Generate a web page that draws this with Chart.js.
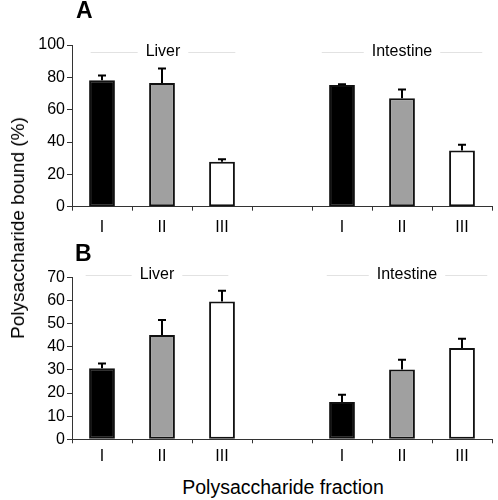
<!DOCTYPE html>
<html>
<head>
<meta charset="utf-8">
<script src="https://cdn.jsdelivr.net/npm/chart.js@4"></script>
<style>
    body { margin: 0; background: #fff; font-family: "Liberation Sans", Arial, sans-serif; }
    #wrap { position: relative; width: 498px; height: 500px; overflow: hidden; }
    .panel { position: absolute; left: 0; width: 498px; height: 235px; }
    .letter { position: absolute; font-weight: bold; font-size: 23px; color: #000; }
    #ytitle { position: absolute; left: 18px; top: 228px; font-size: 19px; white-space: nowrap;
        transform: translate(-50%, -50%) rotate(-90deg); }
    #xtitle { position: absolute; left: 283px; top: 487px; font-size: 19.5px; white-space: nowrap;
        transform: translate(-50%, -50%); }
</style>
</head>
<body>
<div id="wrap">
    <div class="panel" style="top:0"><canvas id="chartA"></canvas></div>
    <div class="panel" style="top:235px"><canvas id="chartB"></canvas></div>
    <div class="letter" style="left:76px; top:-3px">A</div>
    <div class="letter" style="left:75px; top:240px">B</div>
    <div id="ytitle">Polysaccharide bound (%)</div>
    <div id="xtitle">Polysaccharide fraction</div>
</div>
<script>
// fractions, with an empty slot between the two organs
const categories = ["I", "II", "III", "", "I", "II", "III"];
const groups = ["Liver", "Intestine"];

// panel A
const valuesA = [78.2, 76.5, 27.8, null, 75.3, 67.1, 34.8];
const errorsA = [3.0, 9.0, 1.5, null, 0.5, 5.4, 3.5];
const ticksA = { max: 100, step: 10, labelEvery: 20 };

// panel B
const valuesB = [30.7, 45.1, 59.5, null, 16.1, 30.2, 39.4];
const errorsB = [2.0, 6.4, 4.7, null, 3.2, 4.2, 4.1];
const ticksB = { max: 70, step: 10, labelEvery: 10 };

const barColors = ["#000000", "#a0a0a0", "#ffffff", "#ffffff", "#000000", "#a0a0a0", "#ffffff"];

Chart.defaults.font.family = '"Liberation Sans", Arial, sans-serif';
Chart.defaults.color = "#000";

// upward error bars only
const errorBarPlugin = {
    id: "errorBars",
    afterDatasetsDraw(chart) {
        const ctx = chart.ctx;
        const yScale = chart.scales.y;
        const errs = chart.options.plugins.errorBars.errors;
        const meta = chart.getDatasetMeta(0);
        ctx.save();
        ctx.strokeStyle = "#000";
        ctx.lineWidth = 2;
        meta.data.forEach((bar, i) => {
            const v = chart.data.datasets[0].data[i];
            if (v == null || errs[i] == null) return;
            const yTop = yScale.getPixelForValue(v + errs[i]);
            const yBar = yScale.getPixelForValue(v);
            ctx.beginPath();
            ctx.moveTo(bar.x, yBar);
            ctx.lineTo(bar.x, yTop);
            ctx.moveTo(bar.x - 4, yTop);
            ctx.lineTo(bar.x + 4, yTop);
            ctx.stroke();
        });
        ctx.restore();
    }
};

// "Liver" / "Intestine" headers with faint rules on each side
const groupLabelPlugin = {
    id: "groupLabels",
    afterDraw(chart) {
        const ctx = chart.ctx;
        const xScale = chart.scales.x;
        const opts = chart.options.plugins.groupLabels;
        ctx.save();
        ctx.font = '16px "Liberation Sans", Arial, sans-serif';
        ctx.textAlign = "center";
        ctx.textBaseline = "middle";
        opts.items.forEach(item => {
            const cx = xScale.getPixelForValue(item.index) + item.shift;
            const w = ctx.measureText(item.text).width;
            ctx.fillStyle = "#000";
            ctx.fillText(item.text, cx, opts.y);
            ctx.strokeStyle = "#e2e2e2";
            ctx.lineWidth = 1;
            ctx.beginPath();
            ctx.moveTo(cx - w / 2 - 8, opts.y + 0.5);
            ctx.lineTo(cx - w / 2 - item.len, opts.y + 0.5);
            ctx.moveTo(cx + w / 2 + 8, opts.y + 0.5);
            ctx.lineTo(cx + w / 2 + item.len, opts.y + 0.5);
            ctx.stroke();
        });
        ctx.restore();
    }
};

function makeChart(id, values, errors, yTicks, padTop, xHeight, labelPad, headerY, headers) {
    const ctx = document.getElementById(id).getContext("2d");
    return new Chart(ctx, {
        type: "bar",
        data: {
            labels: categories,
            datasets: [{
                data: values,
                backgroundColor: barColors,
                borderColor: "#111",
                borderWidth: 2,
                borderSkipped: false,
                barPercentage: 0.43,
                categoryPercentage: 1.0,
            }],
        },
        options: {
            responsive: true,
            maintainAspectRatio: false,
            animation: false,
            layout: { padding: { top: padTop, right: 6, left: 0, bottom: 0 } },
            plugins: {
                legend: { display: false },
                tooltip: { enabled: false },
                errorBars: { errors: errors },
                groupLabels: { y: headerY, items: headers },
            },
            scales: {
                x: {
                    grid: { drawOnChartArea: false, drawTicks: true, tickLength: 4, color: "#333", offset: true },
                    border: { display: true, color: "#333", width: 1 },
                    ticks: { font: { size: 16 }, padding: labelPad, maxRotation: 0 },
                    afterFit: scale => { scale.height = xHeight; },
                },
                y: {
                    min: 0,
                    max: yTicks.max,
                    grid: { drawOnChartArea: false, drawTicks: true, tickLength: 5, color: "#333" },
                    border: { display: true, color: "#333", width: 1 },
                    ticks: {
                        stepSize: yTicks.step,
                        font: { size: 16 },
                        padding: 2,
                        callback: v => (v % yTicks.labelEvery === 0 ? v : ""),
                    },
                    afterFit: scale => { scale.width = 72; },
                },
            },
        },
        plugins: [errorBarPlugin, groupLabelPlugin],
    });
}

makeChart("chartA", valuesA, errorsA, ticksA, 45, 28.3, 7, 52, [
    { text: groups[0], index: 1, shift: 1, len: 55 },
    { text: groups[1], index: 5, shift: 0, len: 50 },
]);

makeChart("chartB", valuesB, errorsB, ticksB, 42.3, 30.7, 4, 40, [
    { text: groups[0], index: 1, shift: -5, len: 54 },
    { text: groups[1], index: 5, shift: 5, len: 50 },
]);
</script>
</body>
</html>
